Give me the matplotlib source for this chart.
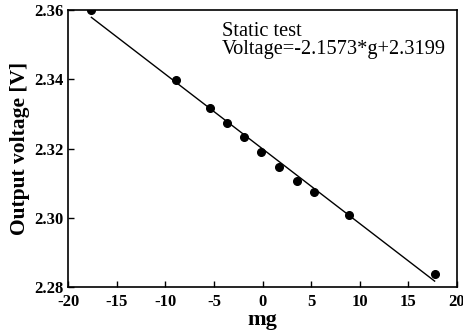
import matplotlib
matplotlib.use("Agg")
import matplotlib.pyplot as plt

# measured points (acceleration in mg, output in V)
mg = [-17.6, -8.9, -5.4, -3.65, -1.9, -0.15, 1.7, 3.5, 5.3, 8.9, 17.7]
volts = [2.3600, 2.3398, 2.3317, 2.3274, 2.3233, 2.3190, 2.3147, 2.3107, 2.3074, 2.3009, 2.2837]

# linear fit reported in the figure
slope = -2.1573
offset = 2.3199

plt.rcParams['font.family'] = ['Liberation Serif', 'DejaVu Serif']
plt.rcParams['axes.unicode_minus'] = False

fig = plt.figure(figsize=(4.63, 3.33), dpi=100)
ax = fig.add_axes([0.147, 0.138, 0.840, 0.832])

fit_x = [mg[0], mg[-1]]
fit_y = [slope * g / 1000 + offset for g in fit_x]
ax.plot(fit_x, fit_y, color='black', linewidth=1.0)
ax.plot(mg, volts, 'o', color='black', markersize=5.5)

ax.set_xlim(-20, 20)
ax.set_ylim(2.28, 2.36)
ax.set_xticks(range(-20, 21, 5))
ax.set_yticks([2.28, 2.30, 2.32, 2.34, 2.36])
ax.set_yticklabels(['2.28', '2.30', '2.32', '2.34', '2.36'])
ax.tick_params(direction='in', length=4, width=1, labelsize=12)
ax.tick_params(axis='x', pad=5)
ax.tick_params(axis='y', pad=3)
for lbl in ax.get_xticklabels() + ax.get_yticklabels():
    lbl.set_fontweight('bold')
for s in ax.spines.values():
    s.set_linewidth(1.2)

ax.set_xlabel('mg', fontsize=16, fontweight='bold', labelpad=0)
ax.set_ylabel('Output voltage [V]', fontsize=15.5, fontweight='bold', labelpad=3)

ax.text(0.396, 0.958, 'Static test\nVoltage=-2.1573*g+2.3199',
        transform=ax.transAxes, ha='left', va='top', fontsize=14.7,
        linespacing=0.95)

fig.savefig('out.png', dpi=100)
